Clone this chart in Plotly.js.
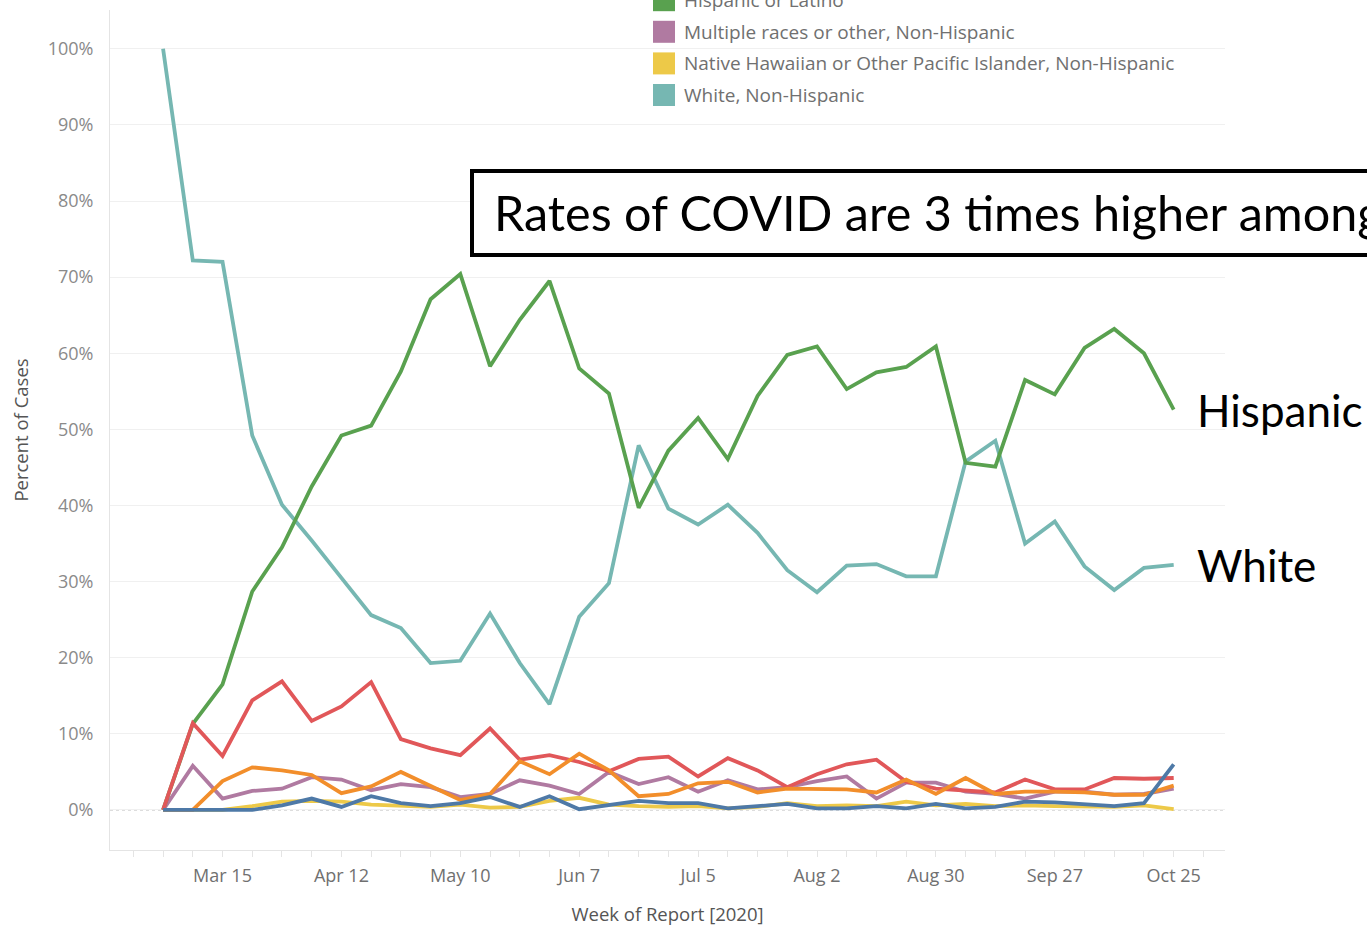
<!DOCTYPE html>
<html>
<head>
<meta charset="utf-8">
<script src="https://cdn.plot.ly/plotly-3.0.1.min.js"></script>
<style>html,body{margin:0;padding:0;background:#fff;overflow:hidden}#chart{width:1367px;height:927px}</style>
</head>
<body>
<div id="chart"></div>
<script>
// ---- data ----
var weeks = ['2020-03-01','2020-03-08','2020-03-15','2020-03-22','2020-03-29','2020-04-05','2020-04-12','2020-04-19','2020-04-26','2020-05-03','2020-05-10','2020-05-17','2020-05-24','2020-05-31','2020-06-07','2020-06-14','2020-06-21','2020-06-28','2020-07-05','2020-07-12','2020-07-19','2020-07-26','2020-08-02','2020-08-09','2020-08-16','2020-08-23','2020-08-30','2020-09-06','2020-09-13','2020-09-20','2020-09-27','2020-10-04','2020-10-11','2020-10-18','2020-10-25'];

var seriesNames = ['American Indian or Alaska Native, Non-Hispanic','Asian, Non-Hispanic','Black, Non-Hispanic','Hispanic or Latino','Multiple races or other, Non-Hispanic','Native Hawaiian or Other Pacific Islander, Non-Hispanic','White, Non-Hispanic'];
var seriesColors = ['#4e79a7','#f28e2b','#e15759','#59a14f','#b07aa1','#edc948','#76b7b2'];

var aian     = [0,0,0,0,0.6, 1.5,0.4,1.8,0.9,0.5, 0.9,1.7,0.4,1.8,0.1, 0.7,1.2,0.9,0.9,0.2, 0.5,0.8,0.2,0.2,0.5, 0.2,0.8,0.2,0.4,1.1, 1.0,0.7,0.5,0.9,6.0];
var asian    = [0,0,3.8,5.6,5.2, 4.6,2.2,3.1,5.0,3.2, 1.3,2.1,6.4,4.7,7.4, 5.2,1.8,2.1,3.5,3.7, 2.3,2.8,2.7,2.7,2.3, 4.0,2.1,4.2,2.1,2.4, 2.4,2.3,2.0,2.0,3.2];
var black    = [0,11.4,7.1,14.4,16.9, 11.7,13.6,16.8,9.3,8.1, 7.2,10.7,6.6,7.2,6.3, 5.1,6.7,7.0,4.4,6.8, 5.2,3.0,4.7,6.0,6.6, 3.7,2.8,2.5,2.3,4.0, 2.7,2.7,4.2,4.1,4.2];
var hispanic = [0,11.3,16.5,28.7,34.5, 42.5,49.2,50.5,57.6,67.1, 70.4,58.3,64.4,69.5,58.0, 54.7,39.7,47.2,51.5,46.1, 54.4,59.8,60.9,55.3,57.5, 58.2,60.9,45.6,45.1,56.5, 54.6,60.7,63.2,60.0,52.6];
var multiple = [0,5.8,1.5,2.5,2.8, 4.3,4.0,2.6,3.4,3.0, 1.7,2.1,3.9,3.2,2.1, 5.0,3.4,4.3,2.4,3.9, 2.7,3.0,3.8,4.4,1.5, 3.6,3.6,2.4,2.1,1.5, 2.4,2.4,2.0,2.1,2.8];
var nhpi     = [0,0,0,0.5,1.1, 1.2,1.1,0.7,0.5,0.4, 0.7,0.3,0.4,1.2,1.6, 0.7,0.5,0.4,0.5,0.2, 0.4,0.9,0.5,0.6,0.5, 1.1,0.6,0.8,0.5,0.6, 0.5,0.4,0.4,0.6,0.1];
var white    = [100,72.2,72.0,49.2,40.1, 35.4,30.5,25.6,23.9,19.3, 19.6,25.8,19.3,13.9,25.4, 29.8,47.9,39.6,37.5,40.1, 36.4,31.5,28.6,32.1,32.3, 30.7,30.7,45.8,48.5,35.0, 37.9,32.0,28.9,31.8,32.2];
var seriesValues = [aian, asian, black, hispanic, multiple, nhpi, white];

var yTicks = [0,10,20,30,40,50,60,70,80,90,100];
var yTickText = ['0%','10%','20%','30%','40%','50%','60%','70%','80%','90%','100%'];
var calloutText = 'Rates of COVID are 3 times higher among';
var endLabels = [{series: 3, text: 'Hispanic'}, {series: 6, text: 'White'}];

// ---- layout helpers (pixel -> paper) ----
var W = 1367, H = 927, M = {l: 110, r: 142, t: 10, b: 77};
var PW = W - M.l - M.r, PH = H - M.t - M.b;
function px(x) { return (x - M.l) / PW; }
function py(y) { return (H - M.b - y) / PH; }

// draw order: last legend item at the bottom, first on top
var traces = [];
for (var k = seriesNames.length - 1; k >= 0; k--) {
  traces.push({
    type: 'scatter', mode: 'lines', name: seriesNames[k],
    x: weeks, y: seriesValues[k],
    line: {color: seriesColors[k], width: 3.8},
    showlegend: false, hoverinfo: 'x+y+name'
  });
}

var shapes = [], annotations = [];
// dotted zero line
shapes.push({type: 'line', xref: 'paper', yref: 'y', x0: 0, x1: 1, y0: 0, y1: 0,
  line: {color: '#b5b5b5', width: 1, dash: 'dot'}, layer: 'below'});

// manual legend (top rows fall outside the picture, as in the crop)
var legRowH = 31.6, legLastY = 95;
for (var i = 0; i < seriesNames.length; i++) {
  var cy = legLastY - (seriesNames.length - 1 - i) * legRowH;
  shapes.push({type: 'rect', xref: 'paper', yref: 'paper',
    x0: px(653), x1: px(675), y0: py(cy + 11), y1: py(cy - 11),
    fillcolor: seriesColors[i], line: {width: 0}});
  annotations.push({xref: 'paper', yref: 'paper', x: px(682), y: py(cy),
    xanchor: 'left', yanchor: 'middle', showarrow: false, text: seriesNames[i],
    font: {family: 'Open Sans, sans-serif', size: 19, color: '#707070'}});
}

// callout box
shapes.push({type: 'rect', xref: 'paper', yref: 'paper',
  x0: px(472), x1: px(1500), y0: py(255), y1: py(171),
  fillcolor: 'rgba(255,255,255,1)', line: {color: '#000', width: 4}});
annotations.push({xref: 'paper', yref: 'paper', x: px(492), y: py(212),
  xanchor: 'left', yanchor: 'middle', showarrow: false, text: calloutText,
  font: {family: 'Lato, sans-serif', size: 48.5, color: '#000'}});

// end labels anchored at final values
endLabels.forEach(function (e) {
  var vals = seriesValues[e.series];
  annotations.push({xref: 'paper', yref: 'y', x: px(1195), y: vals[vals.length - 1],
    xanchor: 'left', yanchor: 'middle', showarrow: false, text: e.text,
    font: {family: 'Lato, sans-serif', size: 44, color: '#000'}});
});

var WEEK = 7 * 24 * 3600 * 1000;
var layout = {
  width: W, height: H,
  margin: M,
  paper_bgcolor: '#fff', plot_bgcolor: '#fff',
  showlegend: false,
  xaxis: {
    type: 'date',
    range: ['2020-02-17 12:00', '2020-11-06 02:00'],
    tick0: '2020-03-15', dtick: 4 * WEEK, tickformat: '%b %-d',
    showgrid: false, zeroline: false,
    showline: true, linecolor: '#e4e4e4', linewidth: 1,
    ticks: 'outside', ticklen: 6, tickcolor: '#e4e4e4', tickwidth: 1,
    ticklabelstandoff: 3,
    minor: {tick0: '2020-03-01', dtick: WEEK, ticks: 'outside', ticklen: 6, tickcolor: '#e4e4e4', showgrid: false},
    tickfont: {family: 'Open Sans, sans-serif', size: 18, color: '#707070'},
    title: {text: 'Week of Report [2020]', font: {family: 'Open Sans, sans-serif', size: 18.5, color: '#555'}, standoff: 22},
    fixedrange: true
  },
  yaxis: {
    range: [-5.26, 105.1],
    tickvals: yTicks, ticktext: yTickText,
    showgrid: true, gridcolor: '#f0f0f0', gridwidth: 1,
    zeroline: false,
    showline: true, linecolor: '#e4e4e4', linewidth: 1,
    ticks: '', ticklabelstandoff: 12,
    tickfont: {family: 'Open Sans, sans-serif', size: 18, color: '#8a8a8a'},
    title: {text: 'Percent of Cases', font: {family: 'Open Sans, sans-serif', size: 18.5, color: '#555'}, standoff: 14},
    fixedrange: true
  },
  shapes: shapes,
  annotations: annotations
};

Plotly.newPlot('chart', traces, layout, {displayModeBar: false, staticPlot: true});
</script>
</body>
</html>
